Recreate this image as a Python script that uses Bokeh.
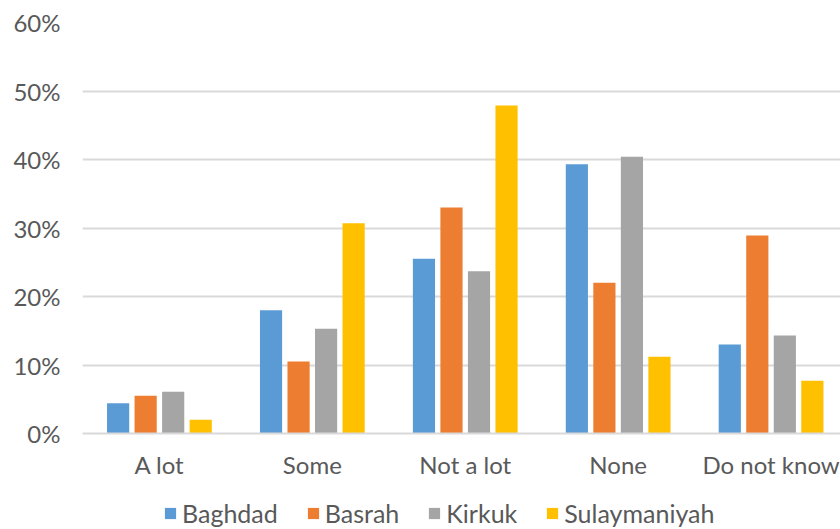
from bokeh.plotting import figure
from bokeh.models import ColumnDataSource, Range1d, FixedTicker, Legend, LegendItem
from bokeh.layouts import column
from bokeh.embed import file_html
from bokeh.resources import INLINE

categories = ["A lot", "Some", "Not a lot", "None", "Do not know"]
series = ["Baghdad", "Basrah", "Kirkuk", "Sulaymaniyah"]
baghdad = [4.4, 18.0, 25.5, 39.3, 13.0]
basrah = [5.5, 10.5, 33.0, 22.0, 28.9]
kirkuk = [6.1, 15.3, 23.7, 40.4, 14.3]
sulaymaniyah = [2.0, 30.7, 47.9, 11.2, 7.7]
y_ticks = [0, 10, 20, 30, 40, 50, 60]
colors = ["#5B9BD5", "#ED7D31", "#A5A5A5", "#FFC000"]

FONT = "Lato"
TXT = "#595959"

p = figure(frame_width=758, frame_height=411, output_backend="svg", toolbar_location=None,
           x_range=Range1d(-0.503, 4.454), y_range=Range1d(0, 60),
           min_border_left=82, min_border_right=0, min_border_top=22, min_border_bottom=50)
p.outline_line_color = None
p.background_fill_color = "white"

vals = [baghdad, basrah, kirkuk, sulaymaniyah]
step = 0.18
bw = 0.145
for i, (name, v, c) in enumerate(zip(series, vals, colors)):
    xs = [k + (i - 1.5) * step for k in range(len(categories))]
    src = ColumnDataSource(dict(x=xs, top=v))
    p.vbar(x="x", top="top", width=bw, bottom=0, source=src, fill_color=c, line_color=None)

p.xgrid.grid_line_color = None
p.ygrid.grid_line_color = "#D9D9D9"
p.ygrid.grid_line_width = 2
p.ygrid.ticker = FixedTicker(ticks=y_ticks)

p.yaxis.ticker = FixedTicker(ticks=y_ticks)
p.yaxis.major_label_overrides = {t: f"{t}%" for t in y_ticks}
p.yaxis.axis_line_color = None
p.yaxis.major_tick_line_color = None
p.yaxis.minor_tick_line_color = None
p.yaxis.major_tick_out = 0
p.yaxis.major_label_standoff = 22
p.yaxis.major_label_text_font = FONT
p.yaxis.major_label_text_font_size = "24px"
p.yaxis.major_label_text_color = TXT

p.xaxis.ticker = FixedTicker(ticks=list(range(len(categories))))
p.xaxis.major_label_overrides = {i: c for i, c in enumerate(categories)}
p.xaxis.axis_line_color = "#D9D9D9"
p.xaxis.axis_line_width = 2
p.xaxis.major_tick_line_color = None
p.xaxis.minor_tick_line_color = None
p.xaxis.major_tick_out = 0
p.xaxis.major_label_standoff = 16
p.xaxis.major_label_text_font = FONT
p.xaxis.major_label_text_font_size = "24px"
p.xaxis.major_label_text_color = TXT

# legend strip below the chart (frame aligned with the chart's frame)
pl = figure(width=840, height=46, output_backend="svg", toolbar_location=None,
            x_range=Range1d(0, 1), y_range=Range1d(0, 1), min_border=0)
pl.axis.visible = False
pl.grid.visible = False
pl.outline_line_color = None
items = []
for name, c in zip(series, colors):
    # zero-height swatch renderer: draws nothing itself, only its legend glyph shows
    r = pl.vbar(x=[-10], top=[0], bottom=0, width=0.1, fill_color=c, line_color=None)
    items.append(LegendItem(label=name, renderers=[r]))
legend = Legend(items=items, orientation="horizontal", location=(81, 1),
                label_text_font=FONT, label_text_font_size="25px", label_text_color=TXT,
                glyph_width=14, glyph_height=14, label_standoff=5, spacing=28,
                padding=0, margin=0, border_line_color=None, background_fill_alpha=0)
pl.add_layout(legend, "center")

layout = column(p, pl, spacing=0)
open("out.html", "w").write(file_html(layout, INLINE))
